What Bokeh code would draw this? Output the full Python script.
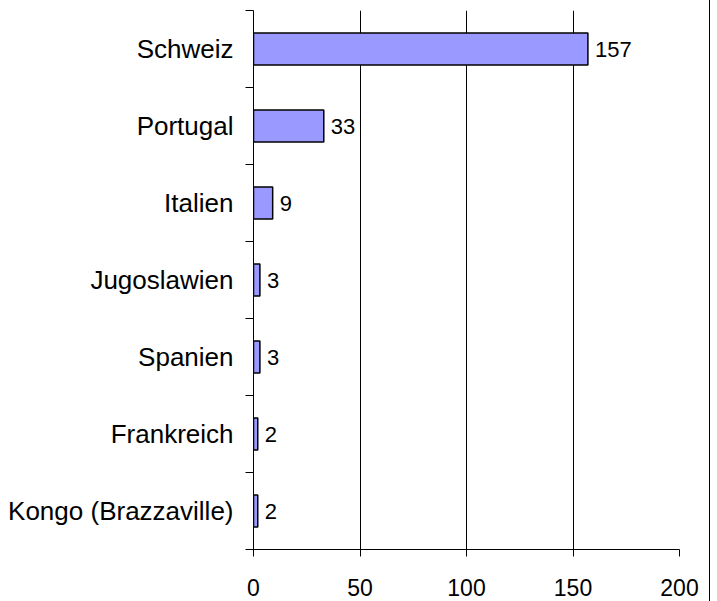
from bokeh.plotting import figure
from bokeh.models import FixedTicker, ColumnDataSource
from bokeh.core.properties import value
from bokeh.embed import file_html
from bokeh.resources import INLINE

countries = ["Schweiz", "Portugal", "Italien", "Jugoslawien", "Spanien", "Frankreich", "Kongo (Brazzaville)"]
counts = [157, 33, 9, 3, 3, 2, 2]
x_ticks = [0, 50, 100, 150, 200]

n = len(countries)
ypos = [n - i - 0.5 for i in range(n)]
src = ColumnDataSource(dict(y=ypos, v=counts, lbl=[str(c) for c in counts]))

p = figure(width=710, height=601, output_backend="svg", toolbar_location=None,
           x_range=(0, 200), y_range=(0, n),
           min_border_left=253, min_border_right=31, min_border_top=10, min_border_bottom=52)
p.styles = {"border-right": "1px solid black"}
p.outline_line_color = None
p.background_fill_color = None
p.border_fill_color = None

p.hbar(y="y", right="v", left=0, height=0.415, source=src,
       fill_color="#9999FF", line_color="black", line_width=1.5)
p.text(x="v", y="y", text="lbl", source=src, x_offset=7,
       text_align="left", text_baseline="middle",
       text_font=value("Liberation Sans"), text_font_size="22px", text_color="black")

# x axis
xa = p.xaxis[0]
xa.ticker = FixedTicker(ticks=x_ticks)
xa.axis_line_color = "black"
xa.axis_line_width = 1
xa.major_tick_out = 7
xa.major_tick_in = 0
xa.minor_tick_line_color = None
xa.major_label_text_font = "Liberation Sans"
xa.major_label_text_font_size = "23px"
xa.major_label_text_color = "black"
xa.major_label_text_line_height = 1.0
xa.major_label_standoff = 22

# y axis: labels at category centres, tick marks at category boundaries
ya = p.yaxis[0]
ya.ticker = FixedTicker(ticks=ypos, minor_ticks=list(range(n + 1)))
ya.major_label_overrides = {y: c for y, c in zip(ypos, countries)}
ya.major_tick_out = 0
ya.major_tick_in = 0
ya.minor_tick_out = 8
ya.minor_tick_in = 0
ya.minor_tick_line_color = "black"
ya.axis_line_color = "black"
ya.major_label_text_font = "Liberation Sans"
ya.major_label_text_font_size = "26px"
ya.major_label_text_color = "black"
ya.major_label_standoff = 12

p.xgrid.ticker = FixedTicker(ticks=x_ticks)
p.xgrid.grid_line_color = "black"
p.xgrid.grid_line_width = 1
p.ygrid.grid_line_color = None

open("out.html", "w").write(file_html(p, INLINE))
